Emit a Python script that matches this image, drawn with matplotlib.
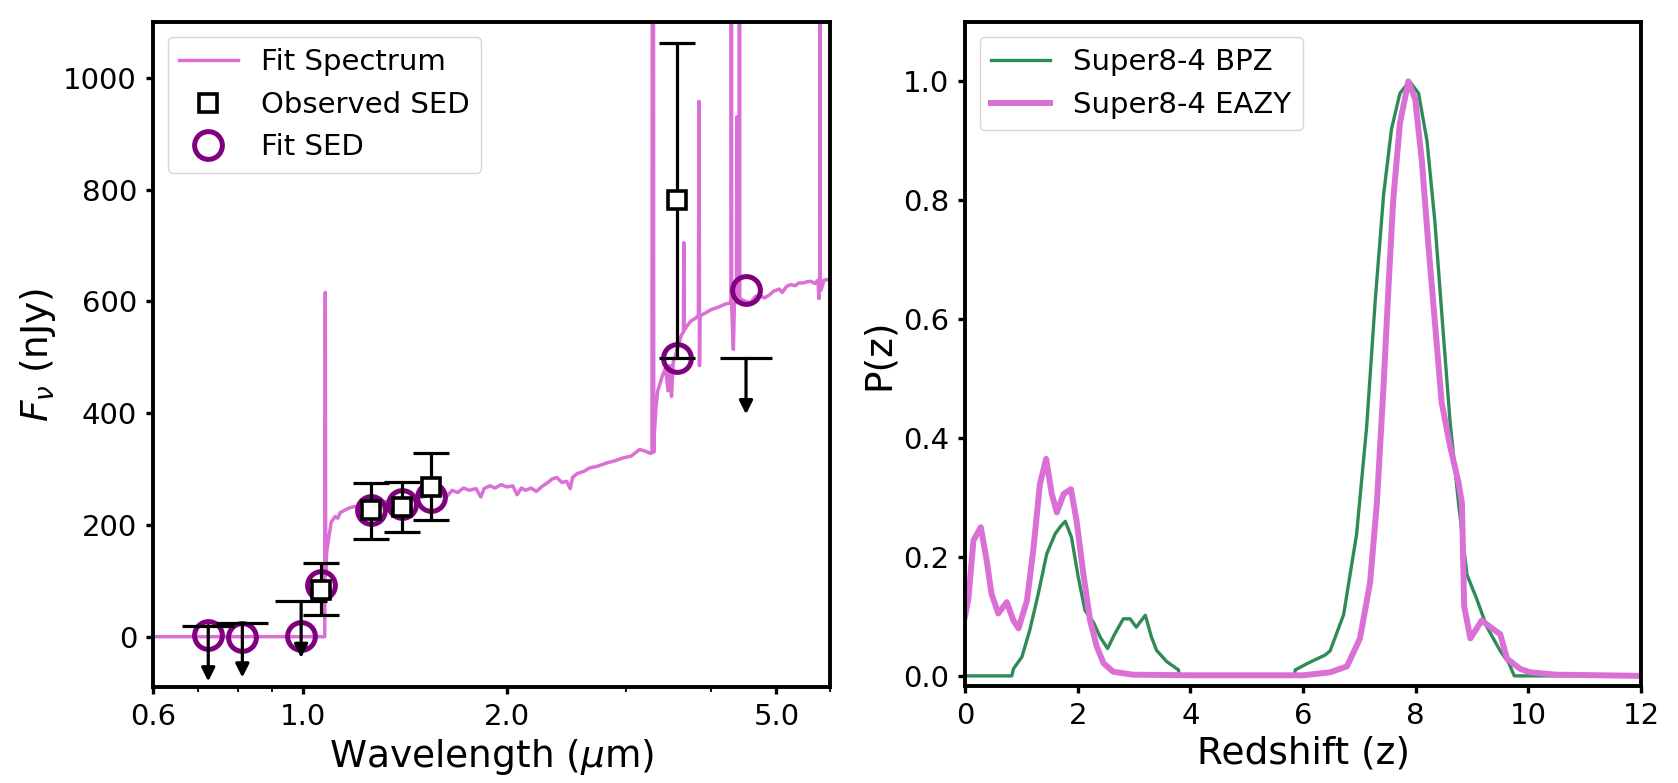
import numpy as np
import matplotlib
matplotlib.use("Agg")
import matplotlib.pyplot as plt
from matplotlib.ticker import NullFormatter

# ==========================================================
# Données : spectre ajusté (longueur d'onde en um, flux en nJy)
# ==========================================================
wave_spec = [0.60, 1.076, 1.078, 1.0795, 1.083, 1.087, 1.095, 1.10, 1.115, 1.125,
             1.134, 1.15, 1.167, 1.19, 1.22, 1.25, 1.28, 1.32, 1.36, 1.40,
             1.45, 1.50, 1.55, 1.60, 1.63, 1.66, 1.69, 1.725, 1.76, 1.80,
             1.83, 1.85, 1.888, 1.92, 1.96, 2.00, 2.04, 2.07, 2.10, 2.13,
             2.17, 2.21, 2.26, 2.30, 2.33, 2.37, 2.41, 2.45, 2.48, 2.50,
             2.54, 2.60, 2.65, 2.72, 2.81, 2.89, 2.97, 3.05, 3.14, 3.20,
             3.26, 3.275, 3.285, 3.295, 3.30, 3.32, 3.34, 3.37, 3.40, 3.43,
             3.46, 3.48, 3.50, 3.52, 3.55, 3.58, 3.62, 3.645, 3.65, 3.655,
             3.70, 3.74, 3.80, 3.835, 3.845, 3.85, 3.855, 3.87, 3.94, 4.00,
             4.07, 4.13, 4.20, 4.27, 4.285, 4.29, 4.295, 4.32, 4.335, 4.365,
             4.37, 4.375, 4.405, 4.41, 4.415, 4.50, 4.58, 4.65, 4.72, 4.80,
             4.89, 4.95, 5.05, 5.10, 5.18, 5.25, 5.33, 5.40, 5.48, 5.55,
             5.62, 5.70, 5.76, 5.78, 5.795, 5.80, 5.805, 5.82, 5.88, 5.96, 6.05]
flux_spec = [0, 0, 616, 110, 150, 165, 190, 205, 215, 212,
             222, 226, 230, 233, 230, 236, 238, 242, 240, 245,
             247, 250, 253, 255, 251, 262, 258, 266, 262, 265,
             250, 265, 270, 266, 272, 268, 270, 254, 266, 262,
             266, 260, 270, 276, 282, 285, 276, 278, 265, 285,
             292, 296, 302, 305, 311, 315, 320, 323, 335, 332,
             328, 330, 3000, 330, 360, 410, 440, 455, 470, 480,
             440, 485, 430, 490, 505, 520, 540, 545, 705, 548,
             558, 565, 570, 575, 958, 485, 572, 575, 580, 585,
             588, 591, 595, 597, 597, 3000, 590, 514, 595, 600,
             930, 600, 602, 3000, 605, 600, 598, 608, 612, 606,
             612, 618, 622, 616, 627, 630, 628, 633, 633, 635,
             636, 632, 638, 605, 630, 3000, 630, 620, 638, 639, 642]

# SED observée (carrés) et incertitudes
wave_obs = [1.063, 1.26, 1.40, 1.545, 3.57]
flux_obs = [84, 226, 232, 268, 781]
err_lo = [46, 51, 44, 59, 283]
err_hi = [47, 49, 44, 60, 282]

# Limites supérieures (non-détections)
wave_ul = [0.724, 0.813, 0.993, 4.51]
flux_ul = [20, 24, 63, 498]
ul_tip = [-80, -73, -38, 398]

# SED ajustée (cercles)
wave_fit = [0.724, 0.813, 0.993, 1.063, 1.26, 1.40, 1.545, 3.57, 4.51]
flux_fit = [3, 0, 2, 93, 227, 238, 250, 498, 621]

# P(z) BPZ
z_bpz = [0, 0.83, 0.86, 1.01, 1.15, 1.30, 1.45, 1.60, 1.70, 1.78,
         1.89, 2.01, 2.13, 2.28, 2.40, 2.53, 2.66, 2.81, 2.93, 3.04,
         3.20, 3.31, 3.40, 3.58, 3.79, 3.80, 5.85, 5.86, 6.10, 6.39,
         6.48, 6.72, 6.95, 7.13, 7.28, 7.43, 7.57, 7.72, 7.89, 8.05,
         8.20, 8.34, 8.49, 8.61, 8.76, 8.91, 9.08, 9.26, 9.50, 9.65,
         9.75, 12]
p_bpz = [0, 0, 0.012, 0.032, 0.077, 0.138, 0.205, 0.239, 0.252, 0.26,
         0.233, 0.166, 0.11, 0.09, 0.065, 0.046, 0.071, 0.096, 0.096, 0.082,
         0.102, 0.065, 0.043, 0.024, 0.01, 0, 0, 0.01, 0.022, 0.035,
         0.042, 0.103, 0.238, 0.42, 0.63, 0.81, 0.92, 0.98, 1.0, 0.98,
         0.90, 0.764, 0.575, 0.427, 0.29, 0.17, 0.13, 0.083, 0.042, 0.022,
         0.0, 0.0]

# P(z) EAZY
z_eazy = [0, 0.06, 0.15, 0.28, 0.385, 0.47, 0.59, 0.74, 0.86, 0.95,
          1.10, 1.21, 1.33, 1.44, 1.54, 1.63, 1.75, 1.88, 1.98, 2.10,
          2.22, 2.34, 2.46, 2.63, 2.98, 4.0, 6.0, 6.48, 6.78, 7.01,
          7.19, 7.31, 7.43, 7.52, 7.60, 7.72, 7.87, 7.99, 8.11, 8.22,
          8.34, 8.46, 8.61, 8.76, 8.82, 8.86, 8.97, 9.17, 9.50, 9.62,
          9.85, 10.03, 10.5, 12]
p_eazy = [0.10, 0.13, 0.228, 0.25, 0.194, 0.138, 0.105, 0.124, 0.093, 0.08,
          0.127, 0.21, 0.323, 0.365, 0.306, 0.275, 0.306, 0.314, 0.261, 0.172,
          0.093, 0.049, 0.021, 0.007, 0.002, 0.001, 0.001, 0.006, 0.016, 0.063,
          0.157, 0.29, 0.49, 0.66, 0.80, 0.93, 1.0, 0.97, 0.865, 0.73,
          0.595, 0.46, 0.386, 0.325, 0.29, 0.117, 0.063, 0.093, 0.07, 0.029,
          0.012, 0.006, 0.002, 0.0]

# ==========================================================
# Figure
# ==========================================================
plt.rcParams["font.family"] = "DejaVu Sans"
plt.rcParams["axes.linewidth"] = 2.8
plt.rcParams["mathtext.fontset"] = "dejavusans"

fig = plt.figure(figsize=(16.78, 7.83), dpi=100)
ax1 = fig.add_axes([0.0912, 0.1226, 0.4034, 0.8494])
ax2 = fig.add_axes([0.5751, 0.1239, 0.4029, 0.8481])

tick_fs = 21
label_fs = 27
leg_fs = 21

# ---------- Panneau gauche ----------
ax1.plot(wave_spec, flux_spec, color="orchid", lw=2.5, label="Fit Spectrum", zorder=1)

ax1.plot(wave_fit, flux_fit, "o", ms=20, mfc="none", mec="purple", mew=3.6,
         label="Fit SED", zorder=2)

ax1.errorbar(wave_obs, flux_obs, yerr=[err_lo, err_hi], fmt="none",
             ecolor="black", elinewidth=2.3, capsize=13, capthick=2.3, zorder=3)
ax1.plot(wave_obs, flux_obs, "s", ms=13, mfc="white", mec="black", mew=2.6,
         label="Observed SED", zorder=4)

for x, y, t in zip(wave_ul, flux_ul, ul_tip):
    ax1.plot([x], [y], marker="_", ms=37, mew=2.3, color="black", zorder=3)
    ax1.annotate("", xy=(x, t), xytext=(x, y),
                 arrowprops=dict(arrowstyle="-|>", color="black", lw=2.3,
                                 mutation_scale=20, shrinkA=0, shrinkB=0),
                 zorder=3)

ax1.set_xscale("log")
ax1.set_xlim(0.6, 6.0)
ax1.set_ylim(-90, 1100)
ax1.set_xticks([0.6, 1.0, 2.0, 5.0])
ax1.set_xticklabels(["0.6", "1.0", "2.0", "5.0"])
ax1.xaxis.set_minor_formatter(NullFormatter())
ax1.set_yticks([0, 200, 400, 600, 800, 1000])
ax1.set_xlabel(r"Wavelength ($\mu$m)", fontsize=label_fs)
ax1.set_ylabel(r"$F_\nu$ (nJy)", fontsize=label_fs)
ax1.tick_params(axis="both", which="major", labelsize=tick_fs, width=2.4,
                length=5, pad=6.5)
ax1.tick_params(axis="x", which="minor", width=1.3, length=3.5)

handles, labels = ax1.get_legend_handles_labels()
order = [labels.index(l) for l in ["Fit Spectrum", "Observed SED", "Fit SED"]]
ax1.legend([handles[i] for i in order], [labels[i] for i in order],
           loc="upper left", fontsize=leg_fs, borderaxespad=0.5)

# ---------- Panneau droit ----------
ax2.plot(z_bpz, p_bpz, color="seagreen", lw=2.4, label="Super8-4 BPZ")
ax2.plot(z_eazy, p_eazy, color="orchid", lw=4.3, label="Super8-4 EAZY")
ax2.set_xlim(0, 12)
ax2.set_ylim(-0.017, 1.1)
ax2.set_xticks(np.arange(0, 13, 2))
ax2.set_yticks([0.0, 0.2, 0.4, 0.6, 0.8, 1.0])
ax2.set_xlabel("Redshift (z)", fontsize=label_fs)
ax2.set_ylabel("P(z)", fontsize=label_fs)
ax2.tick_params(axis="both", which="major", labelsize=tick_fs, width=2.4,
                length=5, pad=6.5)
ax2.legend(loc="upper left", fontsize=leg_fs, borderaxespad=0.5)

fig.savefig("out.png", dpi=100)
